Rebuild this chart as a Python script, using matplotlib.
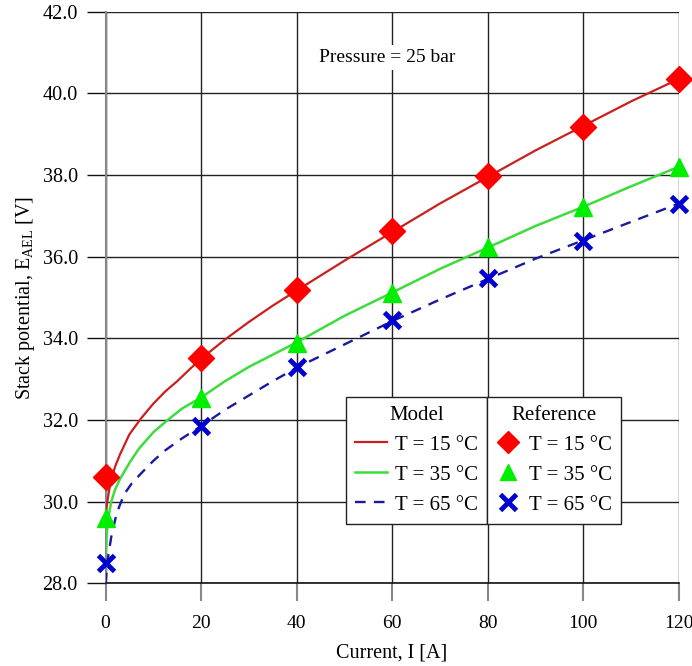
import matplotlib
matplotlib.use("Agg")
import matplotlib.pyplot as plt

plt.rcParams['font.family'] = ['Liberation Serif', 'DejaVu Serif']
plt.rcParams['mathtext.fontset'] = 'custom'
plt.rcParams['mathtext.rm'] = 'Liberation Serif'

# Reference (measured) points
ref_I = [0, 20, 40, 60, 80, 100, 120]
ref_15 = [30.6, 33.51, 35.18, 36.63, 37.97, 39.17, 40.34]
ref_35 = [29.6, 32.55, 33.88, 35.12, 36.24, 37.22, 38.19]
ref_65 = [28.5, 31.85, 33.29, 34.45, 35.48, 36.39, 37.29]

# Model curves
mod15_I = [0, 0.25, 0.5, 1, 2, 3, 5, 7.5, 10, 12.5, 15, 17.5, 20, 25, 30, 35, 40,
           50, 60, 70, 80, 90, 100, 110, 120]
mod15_E = [29.6, 29.9, 30.1, 30.45, 30.86, 31.15, 31.65, 32.05, 32.4, 32.7, 32.95, 33.23,
           33.5, 33.97, 34.4, 34.8, 35.17, 35.9, 36.6, 37.3, 37.95, 38.6, 39.2, 39.8, 40.35]
mod35_I = [0, 0.25, 0.5, 1.2, 2, 3, 5, 7, 10, 13, 16, 20, 25, 30, 35, 40,
           50, 60, 70, 80, 90, 100, 110, 120]
mod35_E = [28.7, 29.2, 29.55, 30.0, 30.3, 30.55, 30.95, 31.3, 31.7, 32.0, 32.28, 32.55,
           32.95, 33.3, 33.6, 33.9, 34.55, 35.12, 35.7, 36.22, 36.75, 37.22, 37.72, 38.2]
mod65_I = [0, 0.2, 0.6, 1.2, 2.3, 3, 4, 5.5, 7.5, 10, 12.4, 16, 20, 25, 30, 35, 40,
           50, 60, 70, 80, 90, 100, 110, 120]
mod65_E = [28.0, 28.25, 28.7, 29.14, 29.7, 29.92, 30.2, 30.45, 30.7, 31.0, 31.25, 31.55,
           31.85, 32.25, 32.6, 32.95, 33.28, 33.85, 34.42, 34.95, 35.45, 35.95, 36.4, 36.85, 37.3]

x_ticks = [0, 20, 40, 60, 80, 100, 120]
y_ticks = [28, 30, 32, 34, 36, 38, 40, 42]
temps = ['T = 15 °C', 'T = 35 °C', 'T = 65 °C']

fig = plt.figure(figsize=(6.92, 6.66), dpi=100)
ax = fig.add_axes([0.1525, 0.124, 0.9808 - 0.1525, 0.9826 - 0.124])

ax.set_xlim(0, 120)
ax.set_ylim(28, 42)
ax.set_xticks(x_ticks)
ax.set_yticks(y_ticks)
ax.set_yticklabels([f"{v:.1f}" for v in y_ticks])
ax.grid(True, color='#222222', linewidth=1.0)
ax.set_axisbelow(True)
for s in ['top', 'right']:
    ax.spines[s].set_visible(False)
ax.spines['left'].set_color('#888888')
ax.spines['left'].set_linewidth(1.5)
ax.spines['bottom'].set_color('#111111')
ax.spines['bottom'].set_linewidth(1.2)
ax.tick_params(axis='y', length=13.5, width=1.0, color='#111111', labelsize=14.5, pad=6.5)
ax.tick_params(axis='x', length=13, width=1.5, color='#888888', labelsize=14, pad=10)

c15_line, c15_mk = '#c8201e', '#ff0000'
c35_line, c35_mk = '#3ddc3d', '#00ee00'
c65_line, c65_mk = '#1a1a9e', '#0000d0'

l1, = ax.plot(mod15_I, mod15_E, color=c15_line, lw=1.6, zorder=3)
l2, = ax.plot(mod35_I, mod35_E, color=c35_line, lw=1.8, zorder=3)
l3, = ax.plot(mod65_I, mod65_E, color=c65_line, lw=1.7, dashes=(4.5, 3.5), zorder=3)

m1, = ax.plot(ref_I, ref_15, ls='none', marker='D', ms=13, color=c15_mk, clip_on=False, zorder=4)
m2, = ax.plot(ref_I, ref_35, ls='none', marker='^', ms=13, color=c35_mk, clip_on=False, zorder=4)
m3, = ax.plot(ref_I, ref_65, ls='none', marker='x', ms=11, mew=3.5, color=c65_mk, clip_on=False, zorder=4)

ax.text(59, 40.88, 'Pressure = 25 bar', ha='center', va='center', fontsize=14,
        bbox=dict(facecolor='white', edgecolor='none', pad=3), zorder=2)

ax.set_xlabel('Current, I [A]', fontsize=14.5, labelpad=8)
ax.set_ylabel(r'Stack potential, E$\mathregular{_{AEL}}$ [V]', fontsize=14.5, labelpad=4)

leg_kw = dict(fontsize=15, title_fontsize=15, fancybox=False, framealpha=1,
              borderaxespad=0, handletextpad=0.4,
              labelspacing=0.5, borderpad=0.42)
anchor = (0.6655, 0.326)
leg1 = ax.legend([l1, l2, l3], temps, title='Model', loc='upper right',
                 bbox_to_anchor=anchor, handlelength=1.55, **leg_kw)
ax.add_artist(leg1)
leg2 = ax.legend([m1, m2, m3], temps, title='Reference', loc='upper left',
                 bbox_to_anchor=anchor, handlelength=1.2, **leg_kw)
for lg in (leg1, leg2):
    lg.set_zorder(10)
    lg.get_frame().set_edgecolor('#222222')
    lg.get_frame().set_linewidth(1.0)
for h in leg2.legend_handles:
    h.set_markersize(11)

fig.savefig('out.png', dpi=100)
